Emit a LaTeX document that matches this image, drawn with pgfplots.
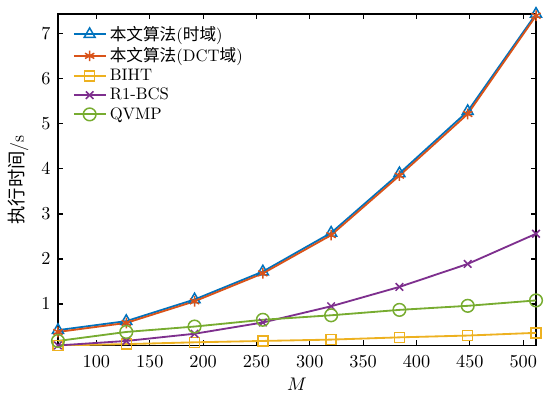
\documentclass[border=0pt]{standalone}
\usepackage{pgfplots}
\pgfplotsset{compat=1.18}
\usepackage{fontspec}
\newfontfamily\cjk{Noto Sans CJK SC}
\definecolor{mb}{rgb}{0,0.447,0.741}
\definecolor{mo}{rgb}{0.85,0.325,0.098}
\definecolor{my}{rgb}{0.929,0.694,0.125}
\definecolor{mp}{rgb}{0.494,0.184,0.556}
\definecolor{mg}{rgb}{0.466,0.674,0.188}
\begin{document}
\begin{tikzpicture}
\begin{axis}[
  scale only axis,
  width=287pt, height=199pt,
  xmin=64, xmax=512, ymin=0.08, ymax=7.44,
  xtick={100,150,...,500},
  ytick={1,2,...,7},
  tick align=inside,
  axis line style={line width=0.7pt},
  major tick length=3pt,
  every tick/.style={black, line width=0.7pt},
  xticklabel style={yshift=-2.5pt},
  yticklabel style={xshift=-1pt},
  tick label style={font=\fontsize{10.5}{12}\selectfont},
  xlabel={$M$},
  ylabel={{\cjk 执行时间}/s},
  xlabel style={at={(axis description cs:0.5,-0.1176)}, anchor=center, font=\fontsize{10.5}{12}\selectfont},
  ylabel style={at={(axis description cs:-0.0826,0.5)}, anchor=center, font=\fontsize{11}{13}\selectfont},
  legend cell align=left,
  legend style={draw=none, fill=none, at={(axis description cs:0.02,0.985)}, anchor=north west,
    row sep=-1.0pt, font=\normalsize},
  legend image code/.code={\draw[mark repeat=2,mark phase=2] plot coordinates {(0cm,0cm) (0.335cm,0cm) (0.67cm,0cm)};},
  every axis plot/.append style={line width=1.1pt},
]
\addplot[color=mb, mark=triangle, mark size=3.8pt, mark options={solid, line width=0.9pt}] coordinates {
(64,0.42) (128,0.62) (192,1.10) (256,1.72) (320,2.58) (384,3.90) (448,5.28) (512,7.44)};
\addlegendentry{{\cjk 本文算法}({\cjk 时域})}
\addplot[color=mo, mark=asterisk, mark size=3.2pt, mark options={solid, line width=0.9pt}] coordinates {
(64,0.38) (128,0.58) (192,1.06) (256,1.68) (320,2.53) (384,3.85) (448,5.22) (512,7.40)};
\addlegendentry{{\cjk 本文算法}(DCT{\cjk 域})}
\addplot[color=my, mark=square, mark size=3.0pt, mark options={solid, line width=0.9pt}] coordinates {
(64,0.08) (128,0.11) (192,0.15) (256,0.18) (320,0.21) (384,0.26) (448,0.30) (512,0.36)};
\addlegendentry{BIHT}
\addplot[color=mp, mark=x, mark size=3.2pt, mark options={solid, line width=0.9pt}] coordinates {
(64,0.08) (128,0.18) (192,0.34) (256,0.59) (320,0.95) (384,1.38) (448,1.89) (512,2.56)};
\addlegendentry{R1-BCS}
\addplot[color=mg, mark=o, mark size=3.8pt, mark options={solid, line width=0.9pt}] coordinates {
(64,0.18) (128,0.38) (192,0.50) (256,0.65) (320,0.75) (384,0.87) (448,0.96) (512,1.08)};
\addlegendentry{QVMP}
\end{axis}
\path (current axis.south west) ++(-34.8pt,-31.8pt);
\path (current axis.north east) ++(5.4pt,8.4pt);
\end{tikzpicture}
\end{document}
